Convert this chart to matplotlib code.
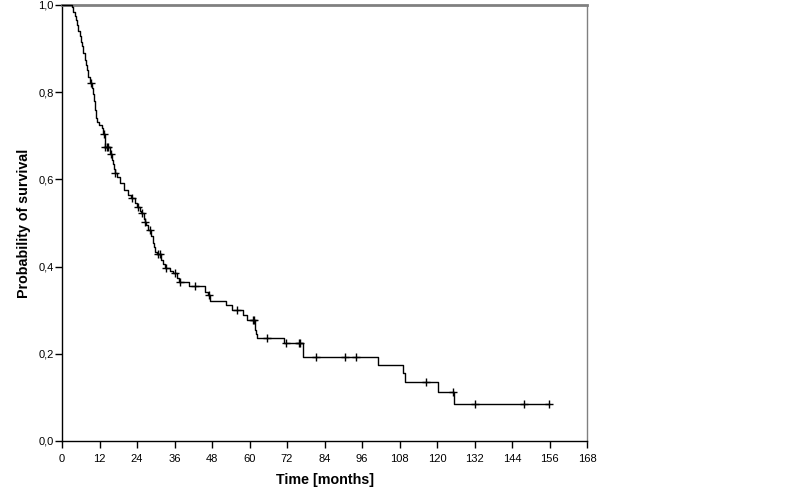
import numpy as np
import matplotlib.pyplot as plt

plt.rcParams['font.family'] = ['Liberation Sans', 'DejaVu Sans']

# Kaplan-Meier steps (time in months, survival after the step)
times = [0, 3.3, 3.6, 4.0, 4.4, 4.8, 5.2, 5.6, 6.0, 6.4, 6.8, 7.2, 7.6, 8.0, 8.4, 8.8,
         9.5, 9.8, 10.1, 10.4, 10.6, 10.8, 11.0, 11.1, 11.8, 12.75, 13.1, 13.6, 13.8,
         15.2, 15.5, 16.0, 16.3, 16.6, 16.9, 17.6, 18.6, 19.7, 21.0, 22.0, 23.3, 24.0,
         25.0, 25.4, 26.1, 26.4, 27.0, 27.6, 28.5, 29.0, 29.5, 29.9, 30.5, 31.8, 32.3,
         33.0, 34.5, 35.5, 36.8, 37.5, 40.6, 45.6, 46.7, 47.2, 52.4, 54.5, 58.0, 59.3,
         61.6, 61.8, 62.0, 62.3, 71.1, 77.0, 101.1, 109.1, 109.6, 120.4, 125.4]
surv = [1.0, 0.995, 0.985, 0.975, 0.965, 0.955, 0.94, 0.93, 0.915, 0.905, 0.89, 0.875,
        0.862, 0.85, 0.835, 0.822, 0.81, 0.795, 0.78, 0.77, 0.759, 0.75, 0.74, 0.732,
        0.725, 0.718, 0.705, 0.69, 0.675, 0.665, 0.658, 0.645, 0.635, 0.625, 0.615,
        0.605, 0.592, 0.575, 0.565, 0.557, 0.547, 0.537, 0.528, 0.523, 0.51, 0.503,
        0.495, 0.485, 0.47, 0.455, 0.445, 0.434, 0.428, 0.415, 0.405, 0.397, 0.39,
        0.385, 0.375, 0.365, 0.356, 0.342, 0.334, 0.321, 0.312, 0.300, 0.289, 0.278,
        0.265, 0.255, 0.245, 0.236, 0.224, 0.193, 0.174, 0.155, 0.135, 0.112, 0.084]

# censored observations
censor_times = [9.2, 13.4, 13.8, 14.4, 14.8, 15.7, 17.0, 22.4, 24.2, 25.6, 26.4, 28.0,
                30.8, 31.3, 33.4, 36.3, 37.9, 42.7, 47.0, 56.0, 61.0, 61.5, 65.5, 71.6,
                75.9, 76.1, 81.3, 90.6, 94.1, 116.4, 125.0, 132.1, 147.7, 155.8]

x_ticks = list(range(0, 169, 12))
y_ticks = [0.0, 0.2, 0.4, 0.6, 0.8, 1.0]

fig = plt.figure(figsize=(7.86, 5.01), dpi=100)
ax = fig.add_axes([62 / 786, 1 - 441 / 501, (587 - 62) / 786, (441 - 5) / 501])

t_line = times + [censor_times[-1]]
s_line = surv + [surv[-1]]
ax.step(t_line, s_line, where='post', color='black', lw=1.0, clip_on=False, zorder=3)

idx = np.searchsorted(times, censor_times, side='right') - 1
censor_surv = np.array(surv)[idx]
ax.plot(censor_times, censor_surv, linestyle='none', marker='+', color='black',
        markersize=6, markeredgewidth=1.0, clip_on=False, zorder=4)

ax.set_xlim(0, 168)
ax.set_ylim(0, 1)
ax.set_xticks(x_ticks)
ax.set_xticklabels([str(t) for t in x_ticks])
ax.set_yticks(y_ticks)
ax.set_yticklabels([f"{v:.1f}".replace('.', ',') for v in y_ticks])
ax.tick_params(direction='out', length=5, width=1, labelsize=8, colors='black', pad=1)
ax.tick_params(axis='x', pad=4)

for side in ['left', 'bottom']:
    ax.spines[side].set_color('black')
    ax.spines[side].set_linewidth(1.0)
ax.spines['top'].set_color('#808080')
ax.spines['top'].set_linewidth(2.0)
ax.spines['right'].set_color('#808080')
ax.spines['right'].set_linewidth(1.0)

ax.set_xlabel("Time [months]", fontsize=10.3, fontweight='bold', labelpad=7)
ax.set_ylabel("Probability of survival", fontsize=10.3, fontweight='bold', labelpad=5)

plt.savefig("out.png", dpi=100)
